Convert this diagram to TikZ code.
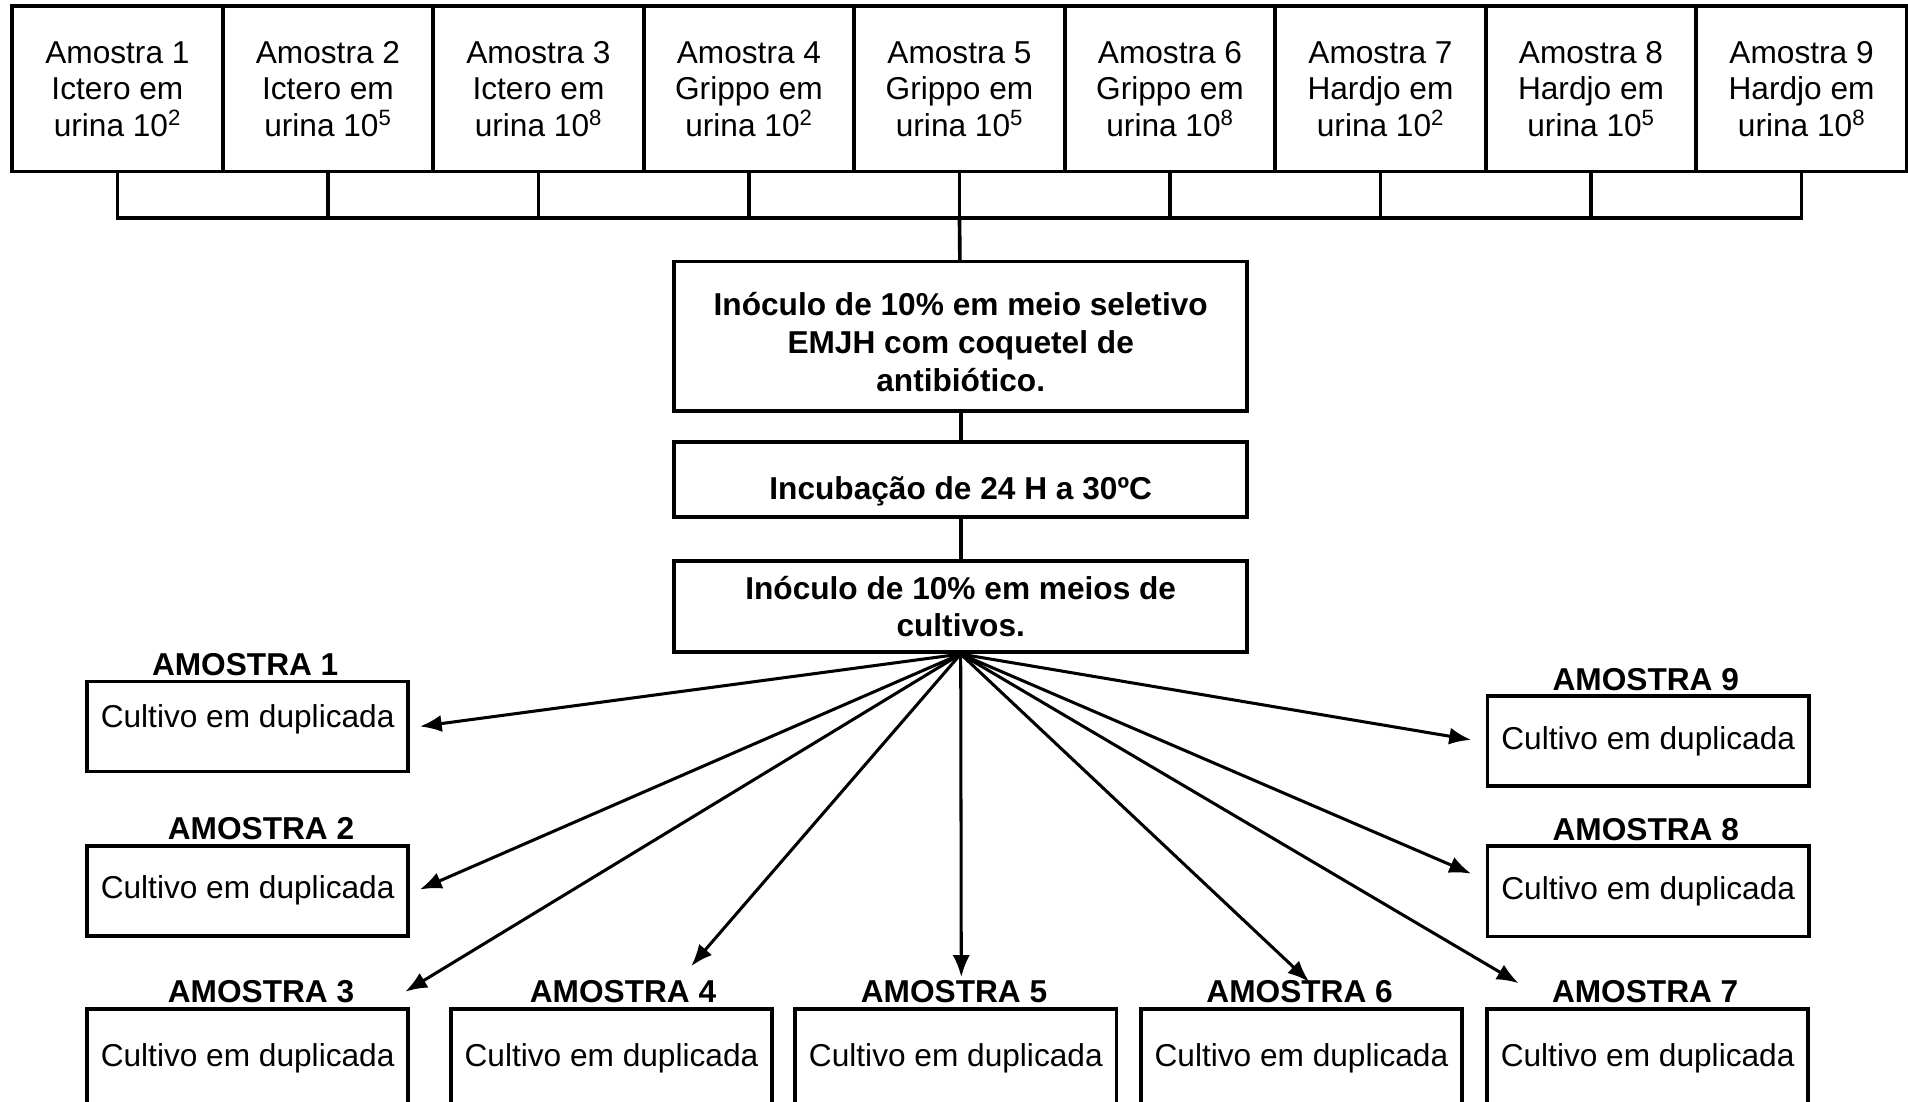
\documentclass[tikz,border=0pt]{standalone}
\usepackage{fontspec}
\setmainfont{Liberation Sans}
\usetikzlibrary{positioning,arrows.meta}

\begin{document}
\begin{tikzpicture}[
        x=1pt, y=-1pt,
        amostra/.style={draw, line width=3pt, minimum width=173pt, minimum height=136pt,
          inner sep=0pt, align=center, font=\fontsize{26}{30}\selectfont},
        etapa/.style={draw, line width=3pt, minimum width=471pt, inner sep=0pt,
          align=center, font=\fontsize{26}{31}\selectfont\bfseries},
        cultivo/.style={draw, line width=3pt, minimum width=264pt, inner sep=0pt,
          font=\fontsize{26}{31}\selectfont},
        titulo/.style={inner sep=0pt, font=\fontsize{26}{31}\selectfont\bfseries},
        linha/.style={line width=3pt, line cap=rect},
        seta/.style={-{Latex[length=18pt,width=14pt]}, line width=2.5pt},
      ]
      \useasboundingbox (0,0) rectangle (1568,905);

      % Samples in the top row
      \foreach \i/\tipo/\expo in {1/Ictero/2, 2/Ictero/5, 3/Ictero/8,
                                  4/Grippo/2, 5/Grippo/5, 6/Grippo/8,
                                  7/Hardjo/2, 8/Hardjo/5, 9/Hardjo/8}
        \node[amostra] (s\i) at ({10+173*(\i-0.5)}, 73)
          {Amostra \i\\\tipo{} em\\urina 10\textsuperscript{\expo}};

      % Bracket joining the samples
      \coordinate (barra) at (0,179);
      \foreach \i in {1,...,9}
        \draw[linha] (s\i.south) -- (s\i.south |- barra);
      \draw[linha] (s1.south |- barra) -- (s9.south |- barra);

      % Central steps
      \node[etapa, minimum height=123pt] (inoc) at (789.5,276.5)
        {\rule{0pt}{28pt}Inóculo de 10\% em meio seletivo\\EMJH com coquetel de\\antibiótico.};
      \node[etapa, minimum height=62pt, text height=38pt, text depth=5pt] (incub) at (789.5,394)
        {Incubação de 24 H a 30ºC};
      \node[etapa, minimum height=75pt] (meios) at (789.5,498.5)
        {Inóculo de 10\% em meios de\\cultivos.};
      \draw[linha] (s5.south |- barra) -- (inoc);
      \draw[linha] (inoc) -- (incub);
      \draw[linha] (incub) -- (meios);

      % Cultures in duplicate
      \node[cultivo, minimum height=74pt, text height=19pt, text depth=17pt] (c1) at (203.5,597)
        {Cultivo em duplicada};
      \foreach \i/\x/\y/\h in {2/203.5/732/74, 3/203.5/870/82, 4/502.5/870/82,
                               5/785.5/870/82, 6/1069.5/870/82, 7/1354/870/82,
                               8/1354.5/732.5/74, 9/1354.5/609/74}
        \node[cultivo, minimum height=\h pt] (c\i) at (\x,\y) {Cultivo em duplicada};

      % Titles above the cultures
      \foreach \i/\dx in {1/-2, 2/11, 3/11, 4/9.5, 5/-1.5, 6/-1.5, 7/-2, 8/-2, 9/-2}
        \node[titulo, above=3pt of c\i, xshift=\dx pt] (t\i) {AMOSTRA \i};

      % Arrow ends
      \coordinate (a1) at (345,597);
      \coordinate (a2) at (345,731);
      \coordinate (a3) at (333,815);
      \coordinate (a4) at (568,794);
      \coordinate (a5) at (790,803);
      \coordinate (a6) at (1076,807);
      \coordinate (a7) at (1248,808);
      \coordinate (a8) at (1209,718);
      \coordinate (a9) at (1209,608);
      \foreach \i in {1,...,9}
        \draw[seta] (meios.south) -- (a\i);
    \end{tikzpicture}
\end{document}
